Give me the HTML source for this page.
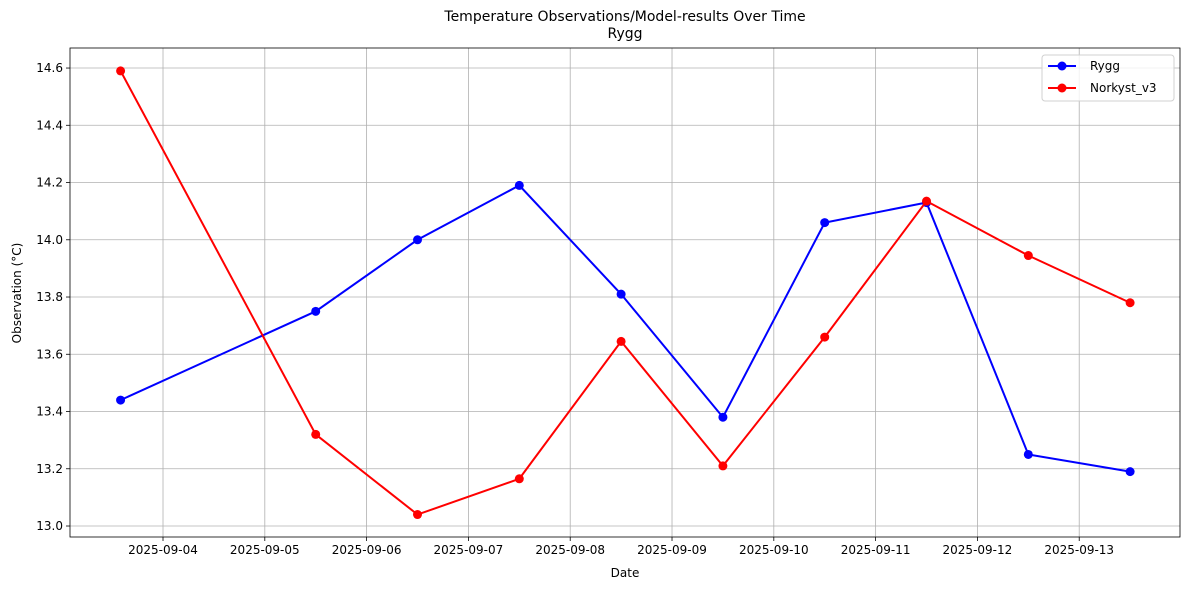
<!DOCTYPE html>
<html><head><meta charset="utf-8"><style>
body{margin:0;background:#fff;font-family:"Liberation Sans","DejaVu Sans",sans-serif}
svg text{font-family:"DejaVu Sans","Liberation Sans",sans-serif}
</style></head><body>
<svg id="c" width="1189" height="590"></svg>
<script>
const dates=["2025-09-03T14","2025-09-05T12","2025-09-06T12","2025-09-07T12","2025-09-08T12","2025-09-09T12","2025-09-10T12","2025-09-11T12","2025-09-12T12","2025-09-13T12"];
const ryggValues=[13.44,13.75,14.00,14.19,13.81,13.38,14.06,14.13,13.25,13.19];
const norkystValues=[14.59,13.32,13.04,13.165,13.645,13.21,13.66,14.135,13.945,13.78];
const xTickLabels=["2025-09-04","2025-09-05","2025-09-06","2025-09-07","2025-09-08","2025-09-09","2025-09-10","2025-09-11","2025-09-12","2025-09-13"];
const yTickValues=[13.0,13.2,13.4,13.6,13.8,14.0,14.2,14.4,14.6];

const NS="http://www.w3.org/2000/svg",svg=document.getElementById('c');
const L=70,R=1180,T=48,B=537;
const base=Date.UTC(2025,8,4);
function day(s){const p=s.split('T');const d=p[0].split('-');return (Date.UTC(+d[0],+d[1]-1,+d[2],+(p[1]||0))-base)/864e5;}
const x0=-0.9136,x1=9.99,y0=12.9616,y1=14.670;
const X=d=>L+(d-x0)/(x1-x0)*(R-L);
const Y=v=>B-(v-y0)/(y1-y0)*(B-T);
function el(t,a,txt){const e=document.createElementNS(NS,t);for(const k in a)e.setAttribute(k,a[k]);if(txt!=null)e.textContent=txt;svg.appendChild(e);return e;}
xTickLabels.forEach(s=>{const x=X(day(s));
 const g=el('line',{x1:x,x2:x,y1:T,y2:B,stroke:'#b0b0b0','stroke-width':0.8});
 
 el('line',{x1:x,x2:x,y1:B,y2:B+4,stroke:'#000','stroke-width':0.8});
 const t=el('text',{x:x,y:B+17,'font-size':12,'text-anchor':'middle'},s);
 });
yTickValues.forEach(v=>{const y=Y(v);
 const g=el('line',{x1:L,x2:R,y1:y,y2:y,stroke:'#b0b0b0','stroke-width':0.8});
 
 el('line',{x1:L-4,x2:L,y1:y,y2:y,stroke:'#000','stroke-width':0.8});
 const t=el('text',{x:L-7,y:y+4,'font-size':12,'text-anchor':'end'},v.toFixed(1));
 });
const fr=el('rect',{x:L,y:T,width:R-L,height:B-T,fill:'none',stroke:'#000','stroke-width':0.8});

function series(vals,col,name){
 const pts=vals.map((v,i)=>X(day(dates[i]))+','+Y(v)).join(' ');
 const p=el('polyline',{points:pts,fill:'none',stroke:col,'stroke-width':2});
 
 vals.forEach((v,i)=>{const c=el('circle',{cx:X(day(dates[i])),cy:Y(v),r:4.5,fill:col});
 });
}
series(ryggValues,'#0000ff','rygg');
series(norkystValues,'#ff0000','norkyst');
let t;
t=el('text',{x:625,y:21,'font-size':14,'text-anchor':'middle'},'Temperature Observations/Model-results Over Time');
t=el('text',{x:625,y:38,'font-size':14,'text-anchor':'middle'},'Rygg');
t=el('text',{x:625,y:577,'font-size':12,'text-anchor':'middle'},'Date');
t=el('text',{x:21,y:293,'font-size':12,'text-anchor':'middle',transform:'rotate(-90 21 293)'},'Observation (°C)');
const lg=el('rect',{x:1042,y:55,width:132,height:46,rx:3,fill:'#fff',stroke:'#d0d0d0','fill-opacity':0.8});

[['Rygg','#0000ff',66],['Norkyst_v3','#ff0000',88]].forEach(([n,c,y])=>{
 el('line',{x1:1048,x2:1076,y1:y,y2:y,stroke:c,'stroke-width':2});
 el('circle',{cx:1062,cy:y,r:4.5,fill:c});
 const tt=el('text',{x:1090,y:y+4,'font-size':12},n);
 
});
</script>
</body></html>
